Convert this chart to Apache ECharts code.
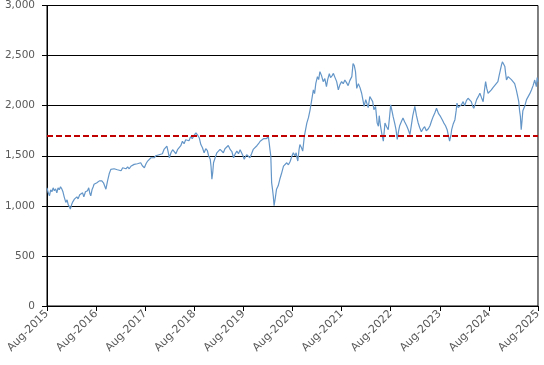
<!DOCTYPE html>
<html>
<head>
<meta charset="utf-8">
<script src="https://cdn.jsdelivr.net/npm/echarts@6/dist/echarts.min.js"></script>
<style>
html,body{margin:0;padding:0;background:#fff;}
#chart{width:544px;height:365px;}
</style>
</head>
<body>
<div id="chart"></div>
<script>
// months since Aug-2015
var monthsSinceStart = [
0,0.3,0.6,0.9,1.2,1.5,1.8,2.1,2.4,2.7,3.0,3.3,3.6,3.9,4.2,4.6,4.9,5.2,5.5,5.7,
6.0,6.3,6.7,7.0,7.3,7.6,8.0,8.3,8.7,9.0,9.4,9.9,10.2,10.5,10.7,11.0,11.3,11.5,11.9,12.2,
12.5,12.8,13.1,13.4,13.8,14.1,14.4,14.8,15.2,15.6,16.0,16.4,16.8,17.2,17.6,18.1,18.5,18.9,19.3,19.7,
20.1,20.5,20.9,21.3,21.7,22.1,22.5,22.9,23.3,23.8,24.2,24.6,25.0,25.4,25.8,26.2,26.6,27.0,27.4,27.8,
28.2,28.6,29.0,29.3,29.6,29.9,30.3,30.7,31.1,31.5,31.9,32.3,32.7,33.1,33.5,33.9,34.3,34.7,35.1,35.5,
35.9,36.4,36.9,37.2,37.6,38.0,38.4,38.8,39.2,39.5,39.9,40.1,40.3,40.5,40.7,41.1,41.5,41.9,42.3,42.7,
43.1,43.5,43.9,44.3,44.8,45.2,45.6,46.0,46.4,46.8,47.2,47.6,47.9,48.2,48.5,48.8,49.2,49.6,50.0,50.4,
50.8,51.3,51.7,52.1,52.5,52.9,53.3,53.6,53.9,54.1,54.3,54.5,54.7,54.9,55.1,55.3,55.5,55.8,56.1,56.5,
56.9,57.3,57.8,58.2,58.6,59.0,59.4,59.8,60.2,60.6,60.9,61.1,61.3,61.6,61.8,62.2,62.5,62.9,63.2,63.5,
63.9,64.3,64.7,65.1,65.4,65.7,66.1,66.4,66.7,67.1,67.5,67.9,68.3,68.6,69.0,69.3,69.7,70.0,70.4,70.8,
71.2,71.6,72.0,72.4,72.8,73.2,73.6,74.0,74.5,74.8,75.1,75.4,75.7,76.1,76.5,76.9,77.2,77.5,77.9,78.2,
78.5,78.9,79.3,79.6,79.9,80.3,80.7,81.0,81.2,81.5,81.8,82.2,82.6,83.0,83.4,83.7,84.0,84.3,84.6,85.0,
85.3,85.6,85.9,86.2,86.6,87.0,87.4,87.9,88.3,88.7,89.0,89.4,89.9,90.3,90.7,91.1,91.5,91.9,92.3,92.7,
93.2,93.6,94.0,94.4,94.8,95.2,95.7,96.2,96.6,97.0,97.4,97.8,98.1,98.4,98.7,98.9,99.3,99.7,100.0,100.2,
100.5,100.9,101.3,101.7,102.1,102.5,102.9,103.3,103.7,104.0,104.3,104.7,105.0,105.4,105.8,106.2,106.6,106.9,107.2,107.5,
107.8,108.2,108.6,109.0,109.4,109.8,110.2,110.5,110.8,111.1,111.3,111.6,111.9,112.1,112.3,112.7,113.1,113.5,113.9,114.3,
114.7,115.0,115.3,115.5,115.7,115.9,116.1,116.3,116.6,116.8,117.2,117.6,118.0,118.4,118.8,119.2,119.6,119.8,120.0
];
var indexValues = [
1180,1130,1100,1160,1140,1180,1150,1170,1130,1180,1160,1190,1170,1140,1090,1034,1060,1010,990,968,
1010,1040,1067,1050,1090,1070,1110,1100,1130,1090,1140,1150,1180,1120,1100,1160,1190,1216,1200,1230,
1240,1249,1230,1250,1230,1220,1166,1250,1320,1364,1350,1370,1380,1360,1375,1350,1380,1397,1370,1390,
1370,1395,1400,1414,1400,1420,1410,1430,1400,1380,1420,1447,1460,1480,1496,1480,1500,1490,1510,1529,
1520,1563,1550,1596,1540,1480,1530,1560,1540,1520,1560,1580,1600,1645,1620,1660,1678,1650,1690,1670,
1700,1728,1700,1680,1612,1580,1529,1570,1550,1500,1464,1390,1265,1330,1430,1480,1529,1540,1563,1550,
1530,1570,1580,1602,1560,1540,1480,1520,1546,1520,1560,1546,1500,1464,1490,1510,1500,1480,1520,1563,
1580,1600,1620,1645,1640,1670,1685,1670,1660,1690,1630,1560,1496,1232,1170,1100,1001,1080,1166,1200,
1265,1320,1397,1380,1430,1410,1440,1490,1529,1500,1529,1480,1447,1560,1612,1580,1546,1695,1760,1826,
1880,1959,2058,2157,2120,2223,2289,2260,2339,2300,2240,2270,2190,2260,2320,2280,2300,2322,2280,2240,
2157,2210,2240,2220,2256,2230,2200,2250,2290,2421,2400,2340,2173,2220,2180,2124,2060,1992,2060,2020,
1980,2091,2091,2040,1959,1992,1826,1794,1900,1800,1727,1645,1826,1790,1760,1880,2009,1950,1890,1820,
1761,1662,1740,1800,1840,1876,1840,1800,1760,1711,1790,1900,1992,1900,1830,1780,1740,1770,1790,1750,
1770,1800,1850,1893,1930,1975,1920,1890,1860,1826,1800,1760,1700,1645,1700,1760,1820,1860,1950,2025,
1980,1990,2010,2040,2000,2050,2074,2060,2040,2000,1975,2020,2060,2090,2124,2080,2040,2150,2240,2170,
2124,2140,2157,2180,2200,2220,2240,2300,2356,2410,2438,2420,2390,2320,2256,2290,2300,2260,2270,2220,
2157,2100,2041,1950,1893,1761,1850,1950,1980,2000,2060,2090,2120,2157,2200,2256,2190,2280,2240
];
var referenceLevel = 1700;
var xTickYears = [2015,2016,2017,2018,2019,2020,2021,2022,2023,2024,2025];
var xTickMonth = 'Aug';
var yTicks = [0,500,1000,1500,2000,2500,3000];

var seriesData = monthsSinceStart.map(function(m,i){ return [m, indexValues[i]]; });

var chart = echarts.init(document.getElementById('chart'), null, {renderer:'canvas'});
var labelColor = '#595959';
chart.setOption({
  animation:false,
  backgroundColor:'#ffffff',
  grid:{left:47,right:6,top:3,bottom:59,show:true,borderColor:'#000',borderWidth:1,backgroundColor:'transparent'},
  xAxis:{
    type:'value', min:0, max:120, interval:12,
    axisLine:{show:true,lineStyle:{color:'#000',width:1}},
    axisTick:{show:true,length:5,lineStyle:{color:'#000'}},
    splitLine:{show:false},
    axisLabel:{
      rotate:45, color:labelColor, fontSize:11, fontFamily:'DejaVu Sans', margin:6,
      formatter:function(v){ var k=Math.round(v/12); return xTickMonth+'-'+xTickYears[k]; }
    }
  },
  yAxis:{
    type:'value', min:0, max:3000, interval:500,
    axisLine:{show:true,lineStyle:{color:'#000',width:1}},
    axisTick:{show:true,length:5,lineStyle:{color:'#000'}},
    splitLine:{show:true,lineStyle:{color:'#000',width:1}},
    axisLabel:{
      color:labelColor, fontSize:10.5, fontFamily:'DejaVu Sans', margin:12,
      formatter:function(v){ return v.toLocaleString('en-US'); }
    }
  },
  series:[{
    type:'line', data:seriesData, showSymbol:false, symbol:'none',
    lineStyle:{color:'#6496c8',width:1.2},
    z:3,
    markLine:{
      silent:true, symbol:['none','none'], label:{show:false},
      lineStyle:{color:'#c00000',width:2,type:[6,3]},
      data:[{yAxis:referenceLevel}]
    }
  }]
});
</script>
</body>
</html>
